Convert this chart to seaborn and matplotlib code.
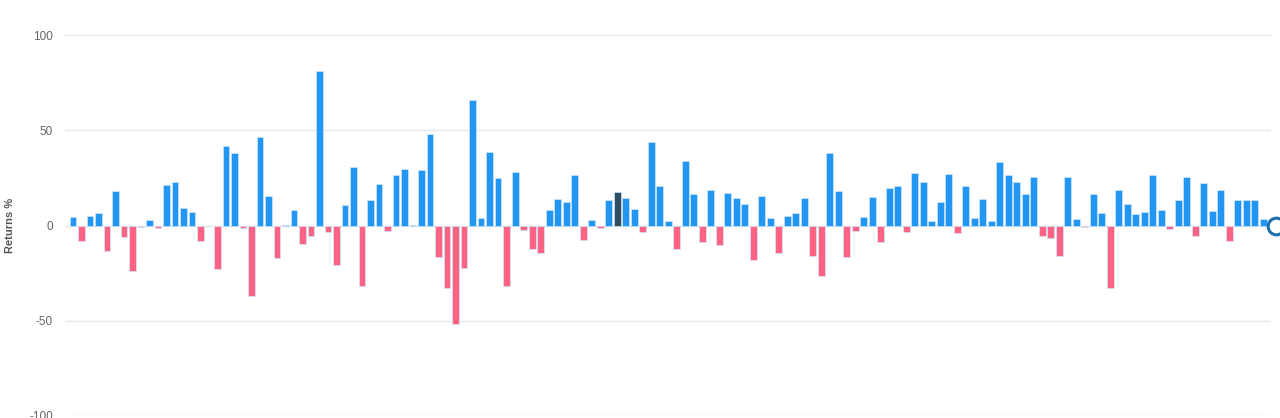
import matplotlib
matplotlib.use('Agg')
import matplotlib.pyplot as plt
import matplotlib.transforms as mtransforms
import seaborn as sns
import pandas as pd

# 每期收益率 (%)
returns = [
    4.5, -8.1, 4.8, 6.5, -13.6, 18.1, -6.0, -24.0, -1.0, 2.9,
    -1.5, 21.4, 22.8, 9.3, 7.2, -8.3, -0.5, -23.0, 41.7, 38.1,
    -1.5, -36.9, 46.7, 15.3, -17.2, 0.3, 8.1, -9.8, -5.3, 81.0,
    -3.6, -21.0, 10.9, 30.5, -31.9, 13.3, 21.9, -2.9, 26.4, 29.8,
    0.3, 29.0, 47.9, -16.6, -32.8, -51.6, -22.1, 66.0, 4.1, 38.4,
    24.7, -31.9, 28.3, -2.4, -12.1, -14.7, 8.1, 14.0, 12.6, 26.7,
    -7.6, 2.8, -1.5, 13.3, 17.8, 14.5, 8.8, -3.4, 44.0, 21.0,
    2.6, -12.1, 34.0, 16.6, -8.8, 18.8, -10.3, 17.1, 14.7, 11.2,
    -18.3, 15.5, 4.1, -14.5, 4.8, 6.4, 14.7, -15.9, -26.7, 38.3,
    18.3, -16.7, -2.8, 4.3, 15.2, -8.6, 19.5, 20.5, -3.4, 27.6,
    22.9, 2.6, 12.1, 27.1, -3.8, 20.7, 4.1, 14.0, 2.2, 33.4,
    26.4, 22.9, 16.4, 25.3, -5.7, -6.6, -16.2, 25.3, 3.4, -0.7,
    16.4, 6.5, -32.8, 18.8, 11.2, 5.9, 7.1, 26.6, 7.9, -1.9,
    13.6, 25.3, -5.3, 22.4, 7.4, 18.8, -8.3, 13.6, 13.3, 13.3,
    3.3,
]
highlight_idx = 64  # 悬停高亮的柱子
y_ticks = [100, 50, 0, -50, -100]
y_label = 'Returns %'

colors = {'gain': '#2196f3', 'loss': '#ff6384', 'hover': '#2f4f63'}

df = pd.DataFrame({'period': range(len(returns)), 'ret': returns})
df['kind'] = ['gain' if r >= 0 else 'loss' for r in returns]
df.loc[highlight_idx, 'kind'] = 'hover'

sns.set_theme(style='white')
plt.rcParams['font.family'] = ['Liberation Sans', 'DejaVu Sans']
plt.rcParams['axes.unicode_minus'] = False

fig = plt.figure(figsize=(12.8, 4.18), dpi=100)
ax = fig.add_axes([0.051, 0.005, 0.942, 0.911])

sns.barplot(data=df, x='period', y='ret', hue='kind', palette=colors,
            dodge=False, width=0.8, saturation=1, legend=False, ax=ax,
            edgecolor='#cfe6fb', linewidth=0.5, zorder=3)

ax.set_ylim(-100, 100)
ax.set_xlim(-0.9, len(returns) - 1 + 0.9)
ax.set_yticks(y_ticks)
ax.set_yticklabels([str(t) for t in y_ticks])
ax.set_xticks([])
ax.set_xlabel('')
ax.set_ylabel(y_label, fontsize=8, fontweight='bold', color='#555555')
ax.yaxis.set_label_coords(-0.042, 0.5)
ax.tick_params(axis='y', length=0, labelsize=8.5, labelcolor='#666666', pad=9)
ax.grid(axis='y', color='#e8e8e8', linewidth=1, zorder=0)
for s in ax.spines.values():
    s.set_visible(False)

# 右侧边缘的圆形标记
trans = mtransforms.blended_transform_factory(ax.transAxes, ax.transData)
ax.plot([1.0045], [0], marker='o', markersize=12, mfc='white', mec='#1f6fa8',
        mew=2.2, transform=trans, clip_on=False, zorder=5)

plt.savefig('out.png', dpi=100)
